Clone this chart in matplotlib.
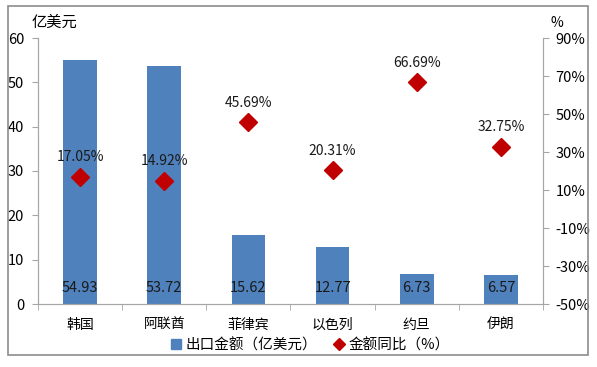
import matplotlib.pyplot as plt
from matplotlib.patches import Rectangle
from matplotlib.lines import Line2D

plt.rcParams['font.family'] = ['Noto Sans CJK SC', 'DejaVu Sans']

countries = ["韩国", "阿联酋", "菲律宾", "以色列", "约旦", "伊朗"]
export_amount = [54.93, 53.72, 15.62, 12.77, 6.73, 6.57]
yoy_pct = [17.05, 14.92, 45.69, 20.31, 66.69, 32.75]

bar_color = "#4F81BD"
dot_color = "#C00000"
axis_gray = "#A6A6A6"

fig = plt.figure(figsize=(5.97, 3.67), dpi=100)
fig.patches.append(Rectangle((8 / 597, 1 - 355 / 367), 580 / 597, 349 / 367,
                             transform=fig.transFigure, fill=False,
                             edgecolor="#8C8C8C", linewidth=1.2))

ax = fig.add_axes([38 / 597, 1 - 304 / 367, 505 / 597, 266 / 367])
x = list(range(len(countries)))
ax.bar(x, export_amount, width=0.4, color=bar_color)
ax.set_xlim(-0.5, len(countries) - 0.5)
ax.set_ylim(0, 60)
ax.set_yticks(range(0, 61, 10))
for i, v in enumerate(export_amount):
    ax.text(i, 3.6, f"{v:.2f}", ha="center", va="center", fontsize=10.5, color="#1a1a1a")

ax.set_xticks(x)
ax.set_xticklabels(countries, fontsize=10)
ax.set_xticks([i + 0.5 for i in range(-1, len(countries))], minor=True)
ax.tick_params(axis="x", which="major", length=0, pad=10)
ax.tick_params(axis="x", which="minor", length=4, color=axis_gray)
ax.tick_params(axis="y", length=4, color=axis_gray, labelsize=10.5, pad=6)

ax2 = ax.twinx()
ax2.plot(x, yoy_pct, linestyle="none", marker="D", markersize=9, color=dot_color)
ax2.set_ylim(-50, 90)
ax2.set_yticks(range(-50, 91, 20))
ax2.set_yticklabels([f"{t}%" for t in range(-50, 91, 20)])
ax2.tick_params(axis="y", length=4, color=axis_gray, labelsize=10.5, pad=5)
for i, v in enumerate(yoy_pct):
    ax2.annotate(f"{v:.2f}%", (i, v), xytext=(0, 9), textcoords="offset points",
                 ha="center", va="bottom", fontsize=10, color="#1a1a1a")

for a in (ax, ax2):
    a.spines["top"].set_visible(False)
    for side in ("left", "right", "bottom"):
        a.spines[side].set_color(axis_gray)

fig.text(32 / 597, 1 - 22 / 367, "亿美元", fontsize=11, va="center", ha="left")
fig.text(557 / 597, 1 - 23 / 367, "%", fontsize=10, va="center", ha="center")

handles = [
    Rectangle((0, 0), 1, 1, color=bar_color),
    Line2D([], [], linestyle="none", marker="D", markersize=6, color=dot_color),
]
fig.legend(handles, ["出口金额（亿美元）", "金额同比（%）"], loc="center",
           bbox_to_anchor=(0.52, 1 - 345 / 367), ncol=2, frameon=False,
           fontsize=10.5, handlelength=0.7, handletextpad=0.3, columnspacing=1.2)

fig.savefig("out.png", dpi=100)
